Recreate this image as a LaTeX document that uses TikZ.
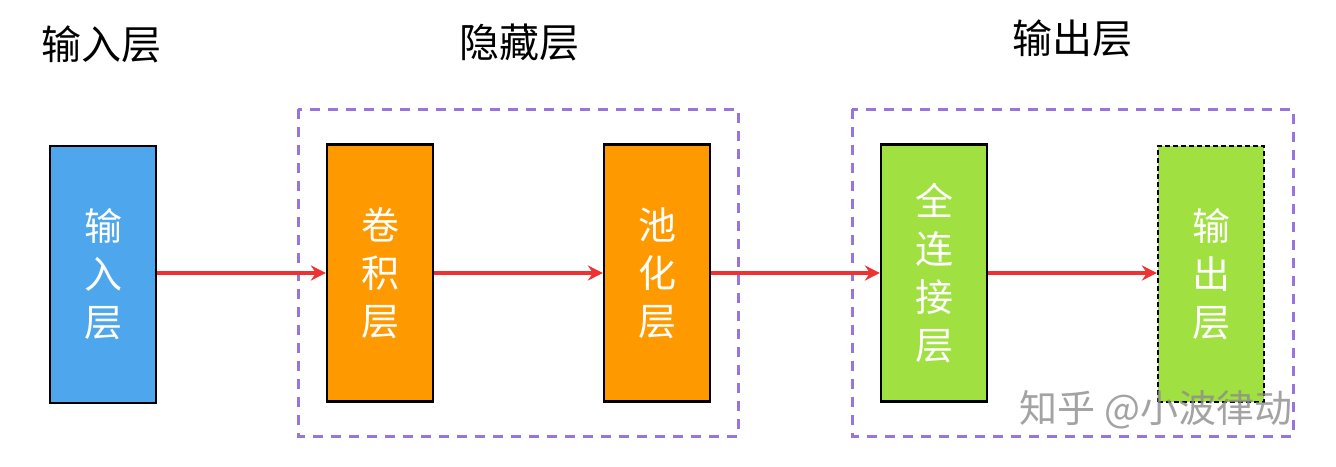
\documentclass[tikz,border=0pt]{standalone}
\usepackage{fontspec}
\setmainfont{Noto Sans CJK SC}
\usetikzlibrary{arrows.meta}
\definecolor{inblue}{RGB}{78,166,236}
\definecolor{conv}{RGB}{255,153,0}
\definecolor{fcgreen}{RGB}{160,224,64}
\definecolor{grp}{RGB}{150,118,220}
\definecolor{arr}{RGB}{238,50,50}
\tikzset{
  layerbox/.style={draw=black, line width=2.2pt, minimum width=106pt, minimum height=257pt, inner sep=0pt,
    text=white, font=\fontsize{38}{48}\selectfont, align=center},
  grpbox/.style={draw=grp, line width=3pt, dash pattern=on 10pt off 8pt},
  title/.style={font=\fontsize{40}{46}\selectfont, text=black, inner sep=0pt},
  flow/.style={draw=arr, line width=3.6pt, -{Stealth[length=15pt,width=15pt,inset=5pt]}}
}
\begin{document}
\begin{tikzpicture}[x=1pt,y=-1pt]
\useasboundingbox (0,0) rectangle (1336,466);
\fill[white] (0,0) rectangle (1336,466);
% group boxes
\draw[grpbox] (298,109) rectangle (738,436);
\draw[grpbox] (852,109) rectangle (1293,436);
% titles
\node[title] (t1) at (101,44) {输入层};
\node[title] (t2) at (519,42) {隐藏层};
\node[title] (t3) at (1072,38) {输出层};
% layer boxes
\node[layerbox, fill=inblue] (in) at (103,274.5) {输\\入\\层};
\node[layerbox, fill=conv] (cv) at (380,273) {卷\\积\\层};
\node[layerbox, fill=conv] (pl) at (657,273) {池\\化\\层};
\node[layerbox, fill=fcgreen] (fc) at (934,273) {全\\连\\接\\层};
\node[layerbox, fill=fcgreen, dashed, dash pattern=on 5pt off 3pt, minimum height=256pt] (out) at (1211,274) {输\\出\\层};
% arrows
\draw[flow] (in.east |- cv.west) -- (cv.west);
\draw[flow] (cv.east) -- (pl.west);
\draw[flow] (pl.east) -- (fc.west);
\draw[flow] (fc.east) -- (out.west |- fc.east);
% watermark
\node[font=\fontsize{38}{44}\selectfont, text=black!45, opacity=0.8, inner sep=0pt] (wm) at (1156,410) {知乎 @小波律动};
\end{tikzpicture}
\end{document}
